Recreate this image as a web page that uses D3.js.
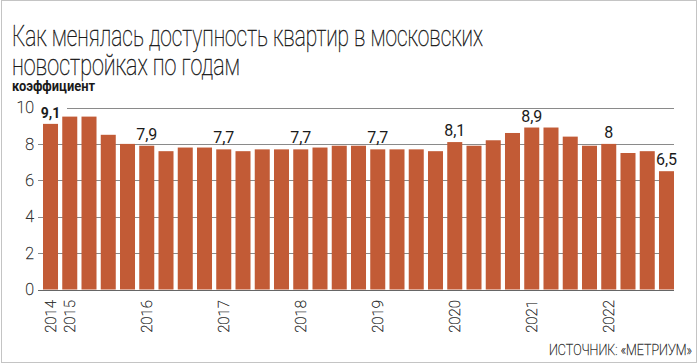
<!DOCTYPE html>
<html>
<head>
<meta charset="utf-8">
<script src="https://cdn.jsdelivr.net/npm/d3@7"></script>
<style>
  body { margin: 0; background: #fff; }
  svg { display: block; }
  text { font-family: Roboto, "Liberation Sans Narrow", sans-serif; fill: #1a1a1a; }
  .thin { font-weight: 100; stroke: #1a1a1a; stroke-width: 0.45px; }
  .light { font-weight: 100; fill: #333; stroke: #333; stroke-width: 0.35px; }
</style>
</head>
<body>
<div id="chart"></div>
<script>
// Квартальные значения коэффициента доступности (2014 — одно значение, далее по кварталам)
const periods = d3.range(33).map(i => "p" + i);
const values = [
    9.1,
    9.5, 9.5, 8.5, 8.0,
    7.9, 7.6, 7.8, 7.8,
    7.7, 7.6, 7.7, 7.7,
    7.7, 7.8, 7.9, 7.9,
    7.7, 7.7, 7.7, 7.6,
    8.1, 7.9, 8.2, 8.6,
    8.9, 8.9, 8.4, 7.9,
    8.0, 7.5, 7.6, 6.5
];
const yearLabels = ["2014", "2015", "2016", "2017", "2018", "2019", "2020", "2021", "2022"];
const yearIndex = [0, 1, 5, 9, 13, 17, 21, 25, 29];
const labelled = [0, 5, 9, 13, 17, 21, 25, 29, 32];
const yTicks = [0, 2, 4, 6, 8, 10];

const width = 700, height = 364;
const svg = d3.select("#chart").append("svg")
    .attr("width", width)
    .attr("height", height);

svg.append("rect")
    .attr("x", 1.5).attr("y", 0.5)
    .attr("width", 695).attr("height", 362)
    .attr("fill", "none").attr("stroke", "#c4c4c4");

// заголовок
svg.append("text").attr("class", "thin").attr("x", 12).attr("y", 46)
    .attr("font-size", 30)
    .attr("textLength", 471).attr("lengthAdjust", "spacingAndGlyphs")
    .text("Как менялась доступность квартир в московских");
svg.append("text").attr("class", "thin").attr("x", 12).attr("y", 75)
    .attr("font-size", 30)
    .attr("textLength", 228).attr("lengthAdjust", "spacingAndGlyphs")
    .text("новостройках по годам");
svg.append("text").attr("x", 12).attr("y", 91)
    .attr("font-size", 15).attr("font-weight", 700)
    .attr("textLength", 83).attr("lengthAdjust", "spacingAndGlyphs")
    .text("коэффициент");

const x = d3.scaleBand().domain(periods).range([43, 674]).paddingInner(0.22).paddingOuter(0);
const y = d3.scaleLinear().domain([0, 10]).range([289.5, 107.5]);

// сетка
svg.append("g").selectAll("line")
    .data(yTicks.filter(t => t > 0))
    .join("line")
    .attr("x1", d => d === 10 ? 67 : 38).attr("x2", 674)
    .attr("y1", d => Math.round(y(d)) + 0.5).attr("y2", d => Math.round(y(d)) + 0.5)
    .attr("stroke", "#8a8a8a").attr("stroke-width", 1);

svg.append("g").selectAll("text")
    .data(yTicks)
    .join("text")
    .attr("class", "light")
    .attr("x", 34).attr("y", d => y(d))
    .attr("dy", "0.35em")
    .attr("text-anchor", "end")
    .attr("font-size", 16)
    .text(d => d);

svg.append("g").selectAll("rect")
    .data(values)
    .join("rect")
    .attr("x", (d, i) => x(periods[i]))
    .attr("width", x.bandwidth())
    .attr("y", d => y(d))
    .attr("height", d => y(0) - y(d))
    .attr("fill", "#c25b36");

svg.append("line")
    .attr("x1", 38).attr("x2", 674)
    .attr("y1", Math.round(y(0)) + 0.5).attr("y2", Math.round(y(0)) + 0.5)
    .attr("stroke", "#666");

// подписи значений
svg.append("g").selectAll("text")
    .data(labelled)
    .join("text")
    .attr("x", i => x(periods[i]) + x.bandwidth() / 2)
    .attr("y", i => y(values[i]) - 6)
    .attr("text-anchor", "middle")
    .attr("font-size", i => i === 0 ? 14 : 16)
    .attr("font-weight", i => i === 0 ? 700 : 400)
    .text(i => String(values[i]).replace(".", ","));

// годы
svg.append("g").selectAll("text")
    .data(yearLabels)
    .join("text")
    .attr("class", "light")
    .attr("transform", (d, k) => {
        const cx = x(periods[yearIndex[k]]) + x.bandwidth() / 2;
        return `translate(${cx + 5},300) rotate(-90)`;
    })
    .attr("text-anchor", "end")
    .attr("font-size", 15)
    .text(d => d);

svg.append("text").attr("class", "light").attr("x", 692).attr("y", 355)
    .attr("text-anchor", "end")
    .attr("font-size", 14)
    .attr("textLength", 143).attr("lengthAdjust", "spacingAndGlyphs")
    .text("ИСТОЧНИК: «МЕТРИУМ»");
</script>
</body>
</html>
